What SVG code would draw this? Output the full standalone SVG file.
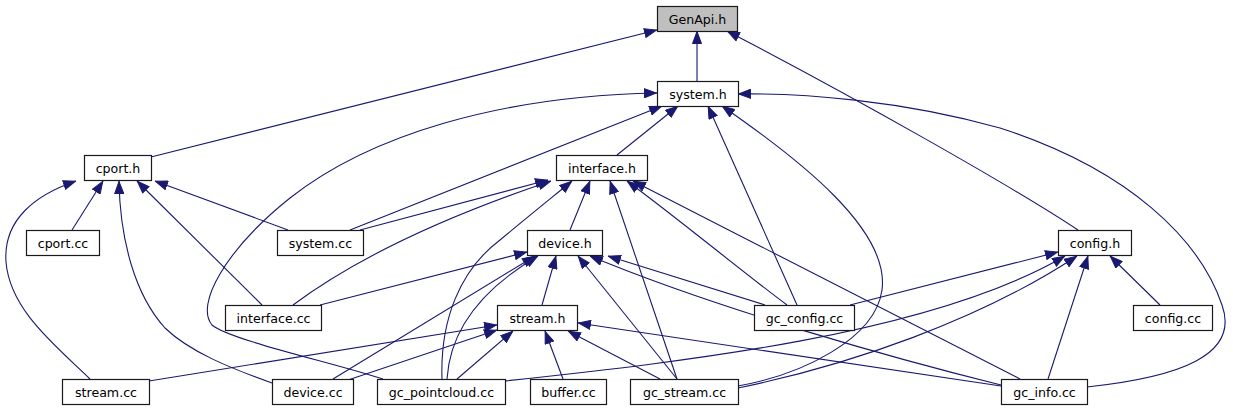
<svg xmlns="http://www.w3.org/2000/svg" width="1233" height="411" viewBox="0 0 1233 411">
<style>
.n rect{fill:#fff;stroke:#1a1a1a;stroke-width:1.2}
.n text{font-family:"DejaVu Sans",sans-serif;font-size:12.6px;fill:#000;text-anchor:middle}
#root rect{fill:#bfbfbf}
#edges path{fill:none;stroke:#191970;stroke-width:1.1;marker-end:url(#a)}
</style>
<defs>
<marker id="a" viewBox="0 0 13 10" refX="13" refY="5" markerWidth="13" markerHeight="10" markerUnits="userSpaceOnUse" orient="auto">
<path d="M0.5,0.5 L12.5,5 L0.5,9.5 z" fill="#191970" stroke="#191970" stroke-width="1"/>
</marker>
</defs>
<rect width="1233" height="411" fill="#fff"/>
<g id="edges">
<path d="M697,81 L697,31"/>
<path d="M151,157 L657,30"/>
<path d="M1078,230 C1010,185 850,95 727,31"/>
<path d="M617,155 L678,106"/>
<path d="M350,230 L662,106"/>
<path d="M383,379 C330,362 230,340 212,325 C195,305 225,250 290,198 C370,135 500,96 657,93"/>
<path d="M797,305 L708,106"/>
<path d="M738,386 C800,375 875,340 882,290 C890,230 800,160 722,106"/>
<path d="M1087,387 C1180,377 1240,355 1222,305 C1200,240 1130,170 1000,128 C900,100 800,93 738,94"/>
<path d="M360,230 L548,180"/>
<path d="M293,305 C340,270 420,225 551,181"/>
<path d="M570,230 L590,181"/>
<path d="M442,379 C440,320 460,270 500,240 C530,215 555,195 572,181"/>
<path d="M677,379 L610,181"/>
<path d="M787,305 C740,270 680,220 627,181"/>
<path d="M1020,379 L633,181"/>
<path d="M320,305 L527,252"/>
<path d="M333,379 L535,256"/>
<path d="M447,379 C450,330 480,290 538,256"/>
<path d="M542,305 L556,256"/>
<path d="M677,379 L578,256"/>
<path d="M1001,385 C900,360 720,310 590,256"/>
<path d="M765,305 L608,256"/>
<path d="M149,381 L497,325"/>
<path d="M348,380 L497,330"/>
<path d="M457,379 L513,331"/>
<path d="M563,379 L545,331"/>
<path d="M660,379 L568,331"/>
<path d="M1001,386 L578,323"/>
<path d="M850,305 L1058,252"/>
<path d="M505,381 C680,362 930,335 1065,256"/>
<path d="M738,388 C850,365 980,320 1077,256"/>
<path d="M1048,379 L1088,256"/>
<path d="M1160,305 L1110,256"/>
<path d="M90,379 C55,345 10,310 6,262 C3,220 35,195 76,181"/>
<path d="M72,230 L103,181"/>
<path d="M272,383 C230,368 190,352 165,328 C135,295 120,240 119,181"/>
<path d="M262,305 L137,181"/>
<path d="M288,230 L155,181"/>
</g>
<g id="root" class="n"><rect x="657.5" y="6.5" width="80" height="25"/><text x="697.5" y="23.5">GenApi.h</text></g>
<g id="system_h" class="n"><rect x="657.5" y="81.5" width="81" height="25"/><text x="698" y="98.5">system.h</text></g>
<g id="interface_h" class="n"><rect x="556.5" y="155.5" width="91" height="25"/><text x="602" y="172.5">interface.h</text></g>
<g id="cport_h" class="n"><rect x="84.5" y="155.5" width="67" height="25"/><text x="118" y="172.5">cport.h</text></g>
<g id="cport_cc" class="n"><rect x="26.5" y="230.5" width="73" height="25"/><text x="63" y="247.5">cport.cc</text></g>
<g id="system_cc" class="n"><rect x="277.5" y="230.5" width="86" height="25"/><text x="320.5" y="247.5">system.cc</text></g>
<g id="device_h" class="n"><rect x="527.5" y="230.5" width="75" height="25"/><text x="565" y="247.5">device.h</text></g>
<g id="config_h" class="n"><rect x="1058.5" y="230.5" width="73" height="25"/><text x="1095" y="247.5">config.h</text></g>
<g id="interface_cc" class="n"><rect x="225.5" y="305.5" width="96" height="25"/><text x="273.5" y="322.5">interface.cc</text></g>
<g id="stream_h" class="n"><rect x="497.5" y="305.5" width="80" height="25"/><text x="537.5" y="322.5">stream.h</text></g>
<g id="gc_config_cc" class="n"><rect x="754.5" y="305.5" width="100" height="25"/><text x="804.5" y="322.5">gc_config.cc</text></g>
<g id="config_cc" class="n"><rect x="1133.5" y="305.5" width="79" height="25"/><text x="1173" y="322.5">config.cc</text></g>
<g id="stream_cc" class="n"><rect x="62.5" y="379.5" width="87" height="25"/><text x="106" y="396.5">stream.cc</text></g>
<g id="device_cc" class="n"><rect x="272.5" y="379.5" width="81" height="25"/><text x="313" y="396.5">device.cc</text></g>
<g id="gc_pointcloud_cc" class="n"><rect x="377.5" y="379.5" width="128" height="25"/><text x="441.5" y="396.5">gc_pointcloud.cc</text></g>
<g id="buffer_cc" class="n"><rect x="530.5" y="379.5" width="76" height="25"/><text x="568.5" y="396.5">buffer.cc</text></g>
<g id="gc_stream_cc" class="n"><rect x="630.5" y="379.5" width="108" height="25"/><text x="684.5" y="396.5">gc_stream.cc</text></g>
<g id="gc_info_cc" class="n"><rect x="1001.5" y="379.5" width="86" height="25"/><text x="1044.5" y="396.5">gc_info.cc</text></g>
</svg>
